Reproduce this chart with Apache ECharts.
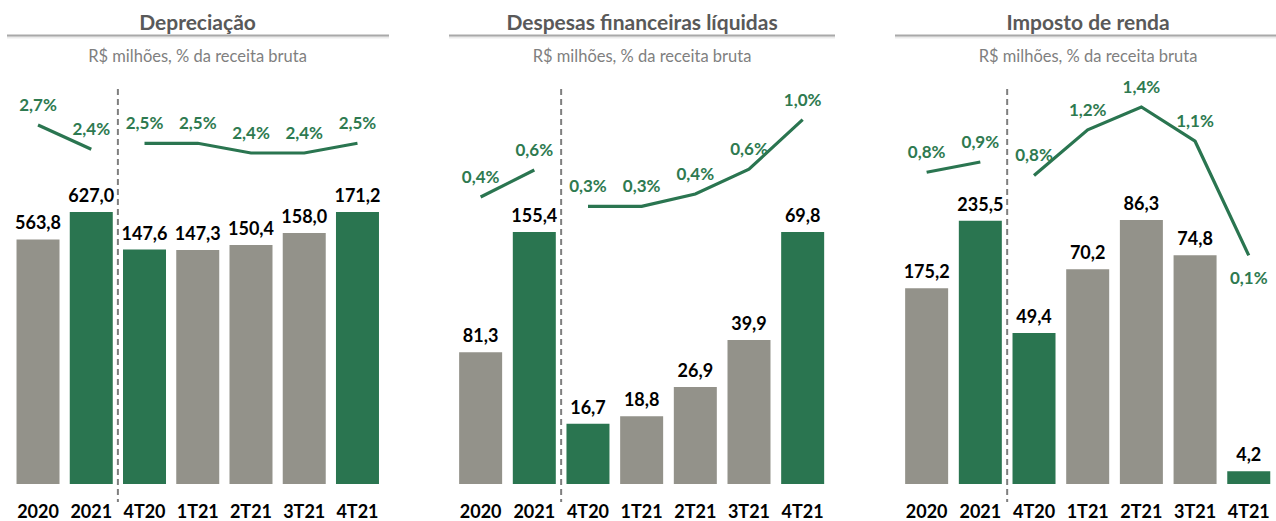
<!DOCTYPE html>
<html>
<head>
<meta charset="utf-8">
<script src="https://cdn.jsdelivr.net/npm/echarts@6/dist/echarts.min.js"></script>
<style>
html,body{margin:0;padding:0;background:#fff;}
#chart{width:1276px;height:521px;}
</style>
</head>
<body>
<div id="chart"></div>
<script>
// ---------------- DATA ----------------
const categories = ['2020', '2021', '4T20', '1T21', '2T21', '3T21', '4T21'];
const panelTitles = ['Depreciação', 'Despesas financeiras líquidas', 'Imposto de renda'];
const subtitleText = 'R$ milhões, % da receita bruta';

const deprecAnnual = [563.8, 627.0];
const deprecQuarter = [147.6, 147.3, 150.4, 158.0, 171.2];
const deprecAnnualPct = [2.7, 2.4];
const deprecQuarterPct = [2.5, 2.5, 2.4, 2.4, 2.5];

const finAnnual = [81.3, 155.4];
const finQuarter = [16.7, 18.8, 26.9, 39.9, 69.8];
const finAnnualPct = [0.4, 0.6];
const finQuarterPct = [0.3, 0.3, 0.4, 0.6, 1.0];

const taxAnnual = [175.2, 235.5];
const taxQuarter = [49.4, 70.2, 86.3, 74.8, 4.2];
const taxAnnualPct = [0.8, 0.9];
const taxQuarterPct = [0.8, 1.2, 1.4, 1.1, 0.1];

// ---------------- LAYOUT / STYLE ----------------
const GREEN = '#2A7550';
const GRAY = '#93928A';
const LABEL_GREEN = '#2E7A50';
const FONT = 'Lato, "Liberation Sans", Arial, sans-serif';
const highlighted = [1, 2, 6]; // green bars (category indices)

const panels = [
  { annual: deprecAnnual, quarter: deprecQuarter, aPct: deprecAnnualPct, qPct: deprecQuarterPct,
    left: 11.4, width: 372.7, center: 197.5, lineX: [7, 389],
    yA: [0, 922], yQ: [0, 251.8], pA: [-1.732, 3.206], pQ: [-1.012, 3.111], below: [] },
  { annual: finAnnual, quarter: finQuarter, aPct: finAnnualPct, qPct: finQuarterPct,
    left: 453.8, width: 375.7, center: 642, lineX: [449, 835],
    yA: [0, 246.7], yQ: [0, 110.8], pA: [-1.726, 1.237], pQ: [-1.943, 1.288], below: [] },
  { annual: taxAnnual, quarter: taxQuarter, aPct: taxAnnualPct, qPct: taxQuarterPct,
    left: 899.8, width: 375.8, center: 1088, lineX: [895, 1276],
    yA: [0, 357.8], yQ: [0, 130.8], pA: [-2.226, 1.657], pQ: [-1.902, 1.601], below: [4] }
];
const GRID_TOP = 84, GRID_BOTTOM_Y = 484;

const fmt1 = v => v.toFixed(1).replace('.', ',');

const grids = [], xAxes = [], yAxes = [], series = [], graphics = [];

panels.forEach((p, i) => {
  grids.push({ left: p.left, width: p.width, top: GRID_TOP, bottom: 521 - GRID_BOTTOM_Y, containLabel: false });
  xAxes.push({
    type: 'category', gridIndex: i, data: categories,
    axisLine: { show: false }, axisTick: { show: false }, splitLine: { show: false },
    axisLabel: { show: true, interval: 0, margin: 18, color: '#000', fontFamily: FONT, fontWeight: 'bold', fontSize: 18, lineHeight: 18 }
  });
  const ranges = [p.yA, p.yQ, p.pA, p.pQ];
  ranges.forEach(r => yAxes.push({ type: 'value', gridIndex: i, min: r[0], max: r[1], show: false, splitLine: { show: false } }));
  const base = i * 4;

  const annualBars = categories.map((c, k) => k < 2 ? { value: p.annual[k], itemStyle: { color: highlighted.includes(k) ? GREEN : GRAY } } : '-');
  const quarterBars = categories.map((c, k) => k >= 2 ? { value: p.quarter[k - 2], itemStyle: { color: highlighted.includes(k) ? GREEN : GRAY } } : '-');
  const barLabel = { show: true, position: 'top', distance: 8, color: '#000', fontFamily: FONT, fontWeight: 'bold', fontSize: 18,
    formatter: d => fmt1(d.value) };
  [annualBars, quarterBars].forEach((data, j) => series.push({
    type: 'bar', xAxisIndex: i, yAxisIndex: base + j, data, barWidth: 43, barGap: '-100%',
    label: barLabel, silent: true, animation: false
  }));

  const annualPct = categories.map((c, k) => k < 2 ? p.aPct[k] : '-');
  const quarterPct = categories.map((c, k) => {
    if (k < 2) return '-';
    const v = p.qPct[k - 2];
    return p.below.includes(k - 2) ? { value: v, label: { position: 'bottom', distance: 14 } } : v;
  });
  const pctLabel = { show: true, position: 'top', distance: 12, color: LABEL_GREEN, fontFamily: FONT, fontWeight: 'bold', fontSize: 17,
    formatter: d => fmt1(d.value) + '%' };
  [annualPct, quarterPct].forEach((data, j) => series.push({
    type: 'line', xAxisIndex: i, yAxisIndex: base + 2 + j, data, connectNulls: false,
    symbol: 'circle', symbolSize: 0, showSymbol: true, itemStyle: { color: GREEN },
    lineStyle: { color: GREEN, width: 3.2, join: 'miter' },
    label: pctLabel, silent: true, animation: false, z: 5
  }));

  graphics.push({ type: 'text', x: p.center, y: 21, style: { text: panelTitles[i], fill: '#595959', font: 'bold 21px ' + FONT, align: 'center', verticalAlign: 'middle' } });
  graphics.push({ type: 'text', x: p.center, y: 56, style: { text: subtitleText, fill: '#7F7F7F', font: '16.5px ' + FONT, align: 'center', verticalAlign: 'middle' } });
  graphics.push({ type: 'line', shape: { x1: p.lineX[0], y1: 37, x2: p.lineX[1], y2: 37 },
    style: { stroke: '#EBEBEB', lineWidth: 3 } });
  graphics.push({ type: 'line', shape: { x1: p.lineX[0], y1: 35.5, x2: p.lineX[1], y2: 35.5 },
    style: { stroke: '#A9A9A9', lineWidth: 2 } });
});

const chart = echarts.init(document.getElementById('chart'), null, { renderer: 'svg' });
chart.setOption({
  animation: false,
  backgroundColor: '#fff',
  grid: grids, xAxis: xAxes, yAxis: yAxes, series, graphic: graphics
});

// dashed dividers between annual and quarterly categories
const dividers = panels.map((p, i) => {
  const a = chart.convertToPixel({ xAxisIndex: i }, categories[1]);
  const b = chart.convertToPixel({ xAxisIndex: i }, categories[2]);
  const x = (a + b) / 2;
  return { type: 'line', shape: { x1: x, y1: 89, x2: x, y2: 502 },
    style: { stroke: '#7F7F7F', lineWidth: 2, lineDash: [6, 4] } };
});
chart.setOption({ graphic: graphics.concat(dividers) });
</script>
</body>
</html>
